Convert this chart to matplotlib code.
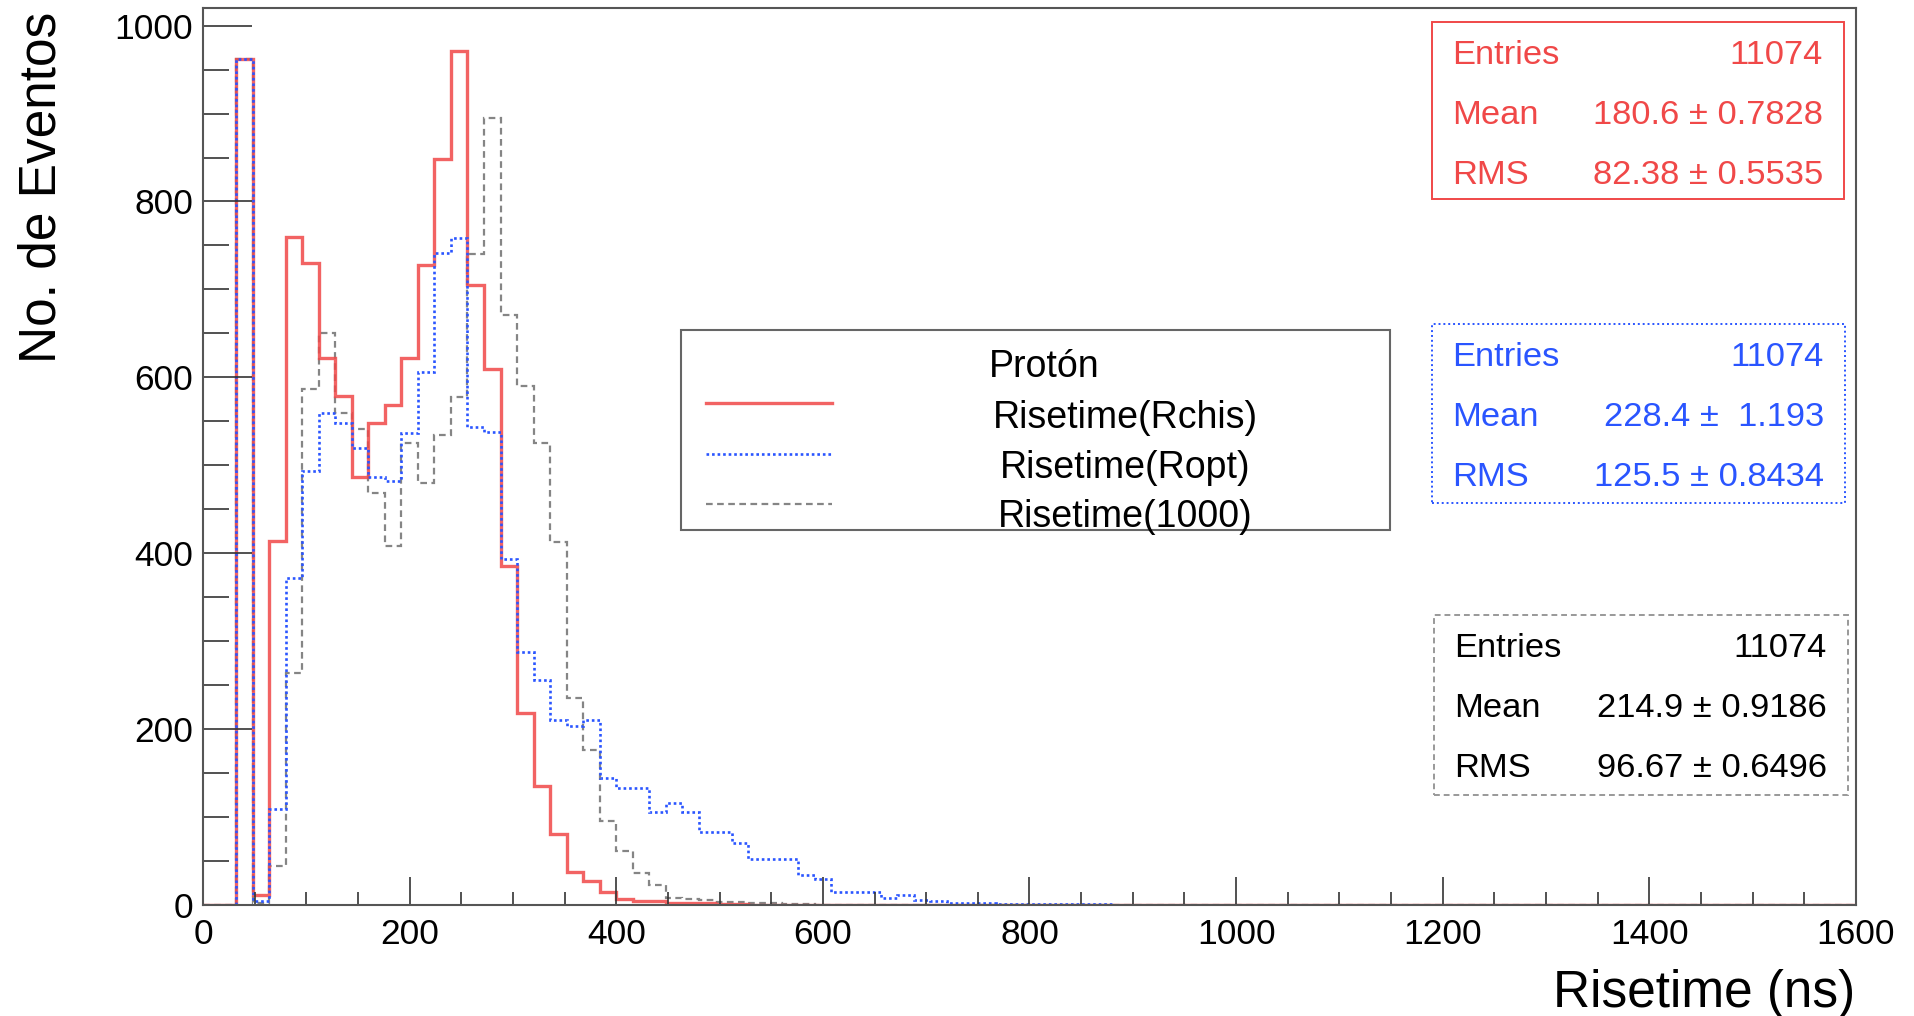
import numpy as np
import matplotlib.pyplot as plt
from matplotlib.patches import Rectangle
from matplotlib.lines import Line2D
from matplotlib.ticker import MultipleLocator

plt.rcParams['font.family'] = ['Liberation Sans', 'DejaVu Sans']

# 100 bins of 16 ns from 0 to 1600 ns, contents (rest are 0)
n_bins = 100
bin_width = 16
rchis = [0, 0, 962, 11, 414, 760, 730, 622, 579, 487, 548, 568, 622, 728, 848,
         971, 705, 609, 385, 218, 135, 81, 37, 27, 15, 7, 5, 5, 2, 2, 2, 1, 1]
ropt = [0, 0, 962, 4, 109, 372, 494, 560, 548, 520, 487, 482, 537, 606, 741,
        758, 544, 538, 394, 288, 256, 210, 203, 210, 144, 133, 133, 106, 116,
        106, 83, 83, 71, 52, 52, 52, 34, 29, 15, 15, 15, 8, 11, 6, 4, 2, 2, 2,
        1, 1, 1, 1, 1, 1, 1]
r1000 = [0, 0, 962, 2, 44, 264, 587, 650, 560, 541, 469, 408, 525, 480, 535,
         578, 740, 895, 671, 590, 525, 413, 235, 176, 96, 61, 36, 23, 8, 7, 6,
         3, 3, 2, 2, 1, 1]

labels = ["Risetime(Rchis)", "Risetime(Ropt)", "Risetime(1000)"]
stats_rchis = ["11074", "180.6 \u00b1 0.7828", "82.38 \u00b1 0.5535"]
stats_ropt = ["11074", "228.4 \u00b1  1.193", "125.5 \u00b1 0.8434"]
stats_r1000 = ["11074", "214.9 \u00b1 0.9186", "96.67 \u00b1 0.6496"]

W, H = 1915, 1016
red = '#f04848'
blue = '#2a55ff'
gray = '#858585'


def full(v):
    return np.concatenate([v, np.zeros(n_bins - len(v))])


def fx(px):
    return px / W


def fy(py):
    return 1 - py / H


fig = plt.figure(figsize=(W / 100, H / 100), dpi=100)
ax = fig.add_axes([fx(203), fy(905), fx(1856) - fx(203), fy(8) - fy(905)])

edges = np.arange(n_bins + 1) * bin_width
red_st = dict(color=red, lw=2.4, alpha=0.85)
blue_st = dict(color=blue, lw=1.9, ls=(0, (1, 1.1)))
gray_st = dict(color=gray, lw=1.6, ls=(0, (3, 2)))
ax.stairs(full(r1000), edges, **gray_st)
ax.stairs(full(rchis), edges, **red_st)
ax.stairs(full(ropt), edges, **blue_st)

ax.set_xlim(0, 1600)
ax.set_ylim(0, 1020)
ax.set_xticks(np.arange(0, 1601, 200))
ax.set_yticks(np.arange(0, 1001, 200))
ax.xaxis.set_minor_locator(MultipleLocator(50))
ax.yaxis.set_minor_locator(MultipleLocator(50))
ax.tick_params(axis='both', which='both', direction='in', colors='#333333',
               labelcolor='black', labelsize=25.5, width=1.2)
ax.tick_params(axis='y', which='major', length=35, pad=7)
ax.tick_params(axis='y', which='minor', length=19)
ax.tick_params(axis='x', which='major', length=20, pad=9)
ax.tick_params(axis='x', which='minor', length=9.5)
for s in ax.spines.values():
    s.set_color('#555555')
    s.set_linewidth(1.5)

fig.text(fx(1855), fy(1007), "Risetime (ns)", fontsize=37, ha='right',
         va='baseline')
fig.text(fx(56), fy(12), "No. de Eventos", fontsize=37, rotation=90,
         rotation_mode='anchor', ha='right', va='baseline')

# legend box
fig.patches.append(Rectangle((fx(681), fy(530)), fx(1390) - fx(681),
                             fy(330) - fy(530), transform=fig.transFigure,
                             fill=True, facecolor='white', edgecolor='#666666',
                             lw=1.5, zorder=5))
fig.text(fx(1044), fy(364) - 13.4 / H, "Protón", fontsize=27, ha='center',
         va='baseline', zorder=6)
for lab, ly, ty, st in zip(labels, [403, 454, 504], [415, 465, 514],
                           [red_st, blue_st, gray_st]):
    fig.lines.append(Line2D([fx(706), fx(832)], [fy(ly), fy(ly)],
                            transform=fig.transFigure, zorder=6, **st))
    fig.text(fx(1125), fy(ty) - 13.4 / H, lab, fontsize=27, ha='center',
             va='baseline', zorder=6)

# stats boxes
boxes = [(stats_rchis, red, red, '-', 1432, 1844, 22, 199),
         (stats_ropt, blue, blue, (0, (1, 1.5)), 1432, 1845, 324, 503),
         (stats_r1000, 'black', '#999999', (0, (3, 2)), 1434, 1848, 615, 795)]
for vals, tc, ec, ls, x0, x1, y0, y1 in boxes:
    fig.patches.append(Rectangle((fx(x0), fy(y1)), fx(x1) - fx(x0),
                                 fy(y0) - fy(y1), transform=fig.transFigure,
                                 facecolor='white', edgecolor=ec, lw=1.4,
                                 ls=ls, zorder=5))
    for i, (name, v) in enumerate(zip(["Entries", "Mean", "RMS"], vals)):
        yb = fy(y0 + 30 + 60 * i) - 12 / H
        fig.text(fx(x0 + 20), yb, name, fontsize=24.8, color=tc,
                 ha='left', va='baseline', zorder=6)
        fig.text(fx(x1 - 21), yb, v, fontsize=24.8, color=tc,
                 ha='right', va='baseline', zorder=6)

plt.savefig('out.png', dpi=100)
plt.close(fig)
